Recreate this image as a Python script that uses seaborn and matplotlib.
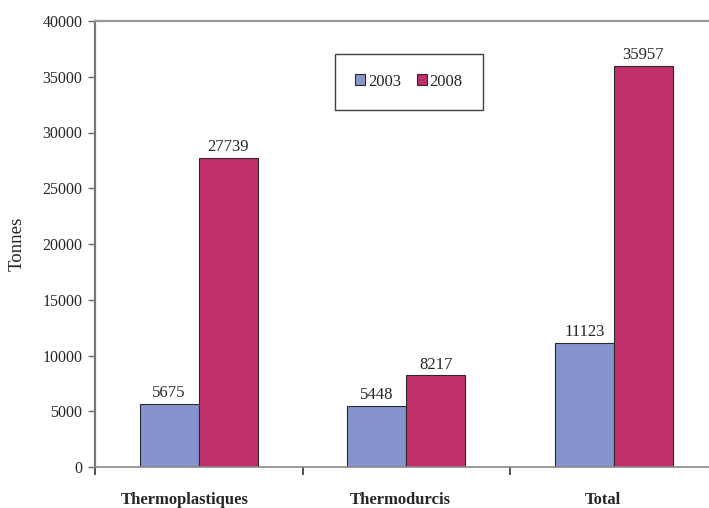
import matplotlib
matplotlib.use("Agg")
import matplotlib.pyplot as plt
import seaborn as sns
import pandas as pd

categories = ["Thermoplastiques", "Thermodurcis", "Total"]
years = ["2003", "2008"]
values_2003 = [5675, 5448, 11123]
values_2008 = [27739, 8217, 35957]
yticks = [0, 5000, 10000, 15000, 20000, 25000, 30000, 35000, 40000]

df = pd.DataFrame({
    "cat": categories * 2,
    "year": [years[0]] * 3 + [years[1]] * 3,
    "val": values_2003 + values_2008,
})

sns.set_style("white")
plt.rcParams["font.family"] = ["Liberation Serif", "DejaVu Serif"]

fig = plt.figure(figsize=(7.09, 5.08), dpi=100)
W, H = 709, 508
ax = fig.add_axes([95 / W, 41 / H, 622.5 / W, 446 / H])

colors = ["#8594CC", "#C2306B"]
sns.barplot(data=df, x="cat", y="val", hue="year", order=categories,
            hue_order=years, palette=colors, width=0.57, saturation=1,
            edgecolor="#2a2a2a", linewidth=0.8, ax=ax)

for cont in ax.containers:
    ax.bar_label(cont, labels=[f"{int(v)}" for v in cont.datavalues],
                 padding=2, fontsize=12)

ax.set_xlim(-0.5, 2.5)
ax.set_ylim(0, 40000)
ax.set_yticks(yticks)
ax.set_yticklabels([str(t) for t in yticks], fontsize=11.5)
ax.tick_params(axis="y", direction="out", length=5, width=1, color="#666666", pad=4, left=True)

# category labels sit slightly left of the group centres in the reference
ax.set_xticks([-0.07, 0.97, 1.95])
ax.set_xticklabels(categories, fontsize=12, fontweight="bold")
ax.tick_params(axis="x", which="major", length=0, pad=18)
ax.set_xticks([-0.5, 0.5, 1.5, 2.5], minor=True)
ax.tick_params(axis="x", which="minor", direction="out", length=6, width=1.2, color="#333333", bottom=True)

ax.set_xlabel("")
ax.set_ylabel("Tonnes", fontsize=13.5)
ax.yaxis.set_label_coords((26 - 95) / 622.5, 0.5)

for side in ["left", "bottom", "top", "right"]:
    ax.spines[side].set_visible(True)
ax.spines["left"].set_color("#777777")
ax.spines["left"].set_linewidth(1.6)
ax.spines["bottom"].set_color("#888888")
ax.spines["bottom"].set_linewidth(1.2)
ax.spines["top"].set_color("#999999")
ax.spines["top"].set_linewidth(1.6)
ax.spines["right"].set_color("#999999")

leg = ax.legend(loc="center", bbox_to_anchor=(0.3727, 0.798, 0.2635, 0.132),
                mode="expand", ncol=2, frameon=True, fancybox=False,
                borderpad=1.2, handlelength=0.6, handleheight=0.6,
                handletextpad=0.15, columnspacing=1.2, fontsize=12)
leg.get_frame().set_edgecolor("#111111")
leg.get_frame().set_linewidth(1.0)

fig.savefig("out.png", dpi=100)
